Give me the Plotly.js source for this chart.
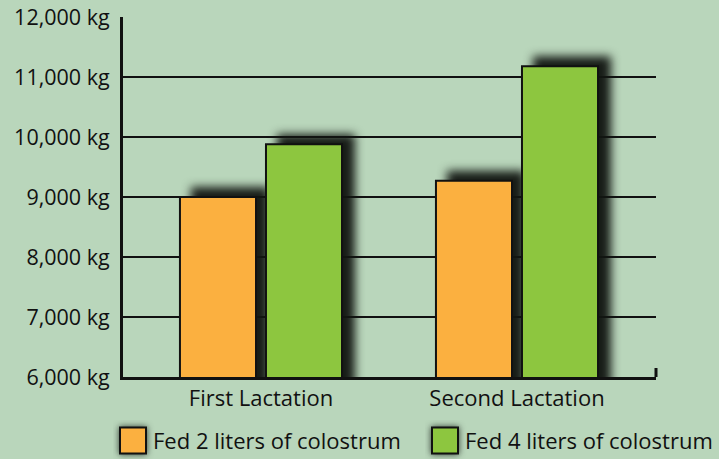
<!DOCTYPE html>
<html>
<head>
<meta charset="utf-8">
<script src="https://cdn.plot.ly/plotly-3.0.1.min.js"></script>
<style>
  html, body { margin: 0; padding: 0; background: #b9d6bb; }
  #chart { width: 719px; height: 459px; }
  .trace.bars .points path { filter: drop-shadow(12px -9px 5px rgba(18,22,18,0.97)); }
  .legendpoints path { filter: drop-shadow(0px 0px 3px rgba(18,22,18,0.8)); }
</style>
</head>
<body>
<div id="chart"></div>
<script>
const categories = ["First Lactation", "Second Lactation"];
const fed2Liters = [9000, 9270];
const fed4Liters = [9880, 11180];
const seriesNames = ["Fed 2 liters of colostrum", "Fed 4 liters of colostrum"];
const yTickValues = [6000, 7000, 8000, 9000, 10000, 11000, 12000];
const yTickLabels = ["6,000 kg", "7,000 kg", "8,000 kg", "9,000 kg", "10,000 kg", "11,000 kg", "12,000 kg"];

const FONT = "Open Sans, sans-serif";

const traces = [
  { type: "bar", x: categories, y: fed2Liters, name: seriesNames[0], legend: "legend",
    marker: { color: "#fbb040", line: { color: "#111", width: 2 } }, hoverinfo: "skip" },
  { type: "bar", x: categories, y: fed4Liters, name: seriesNames[1], legend: "legend2",
    marker: { color: "#8dc63f", line: { color: "#111", width: 2 } }, hoverinfo: "skip" }
];

const legendBase = {
  orientation: "h", xref: "container", yref: "container", xanchor: "left",
  y: 0.04, yanchor: "middle",
  font: { family: FONT, size: 22, color: "#111" }, bgcolor: "rgba(0,0,0,0)"
};

const layout = {
  width: 719, height: 459,
  paper_bgcolor: "#b9d6bb", plot_bgcolor: "rgba(0,0,0,0)",
  margin: { l: 123, r: 63, t: 17, b: 82, autoexpand: false },
  font: { family: FONT, color: "#111", size: 21 },
  barmode: "group", bargap: 0.328, bargroupgap: 0.116,
  showlegend: true,
  legend: Object.assign({}, legendBase, { x: 113 / 719 }),
  legend2: Object.assign({}, legendBase, { x: 425 / 719 }),
  xaxis: { type: "category", range: [-0.539, 1.543], showline: true, linecolor: "#111", linewidth: 3,
           showgrid: false, ticks: "", ticklabelstandoff: 0,
           tickfont: { family: FONT, size: 22, color: "#111" }, fixedrange: true },
  yaxis: { range: [6000, 12000], tickvals: yTickValues, ticktext: yTickLabels,
           showline: true, linecolor: "#111", linewidth: 3, showgrid: true, gridcolor: "#111", gridwidth: 2,
           zeroline: false, ticks: "", ticklabelstandoff: 6,
           tickfont: { family: FONT, size: 21.5, color: "#111" }, fixedrange: true },
  shapes: [
    { type: "line", xref: "paper", yref: "paper", x0: 1, x1: 1, y0: 0, y1: 0.025,
      line: { color: "#111", width: 3 } }
  ]
};

Plotly.newPlot("chart", traces, layout, { displayModeBar: false, staticPlot: true }).then(function () {
  document.querySelectorAll(".legendpoints path").forEach(function (p) {
    p.setAttribute("d", "M13,13H-13V-13H13Z");
  });
});
</script>
</body>
</html>
